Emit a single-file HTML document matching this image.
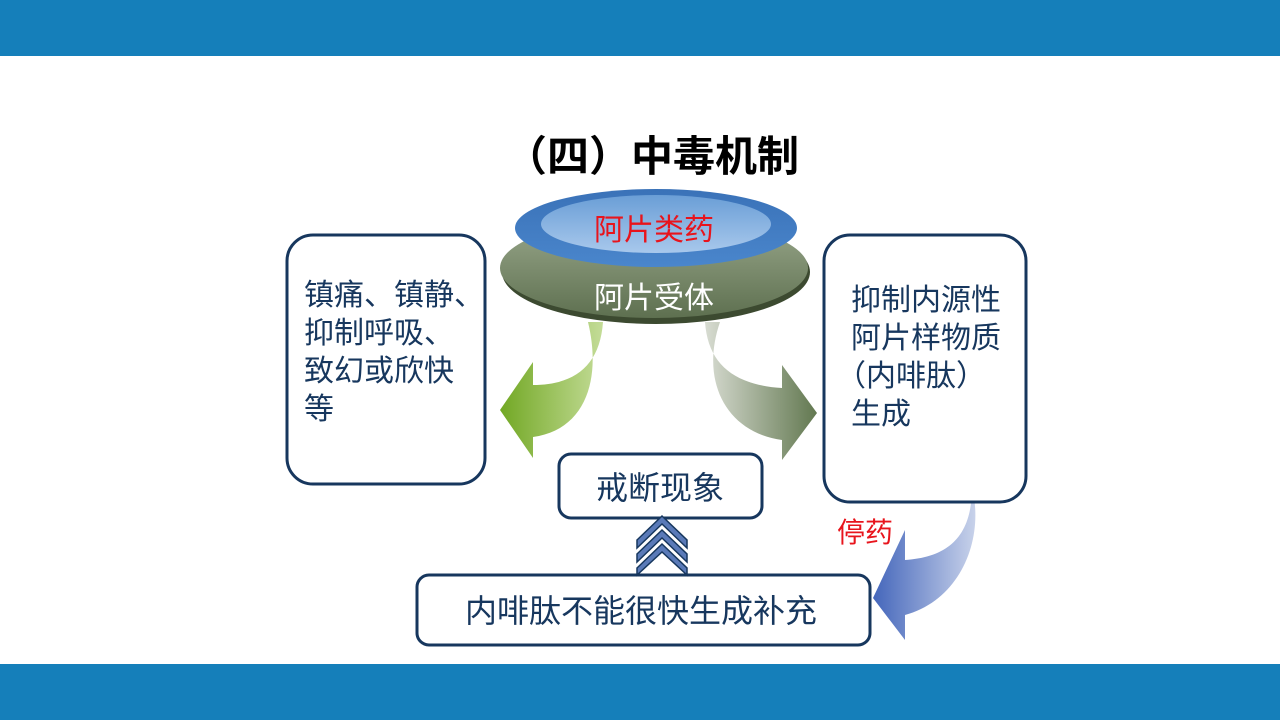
<!DOCTYPE html>
<html><head><meta charset="utf-8"><style>
html,body{margin:0;padding:0;background:#fff}
svg{display:block}
text{font-family:"Liberation Sans","Noto Sans CJK SC",sans-serif}
</style></head><body>
<svg width="1280" height="720" viewBox="0 0 1280 720" xmlns="http://www.w3.org/2000/svg">
<defs>
<linearGradient id="gg" x1="0" x2="1"><stop offset="0" stop-color="#72a824"/><stop offset="1" stop-color="#c4dc98"/></linearGradient>
<linearGradient id="gr" x1="0" x2="1"><stop offset="0" stop-color="#d8dcd2"/><stop offset="1" stop-color="#627850"/></linearGradient>
<linearGradient id="gb" x1="0" x2="1"><stop offset="0" stop-color="#4466bb"/><stop offset="1" stop-color="#c8d2ea"/></linearGradient>
<linearGradient id="base" x1="0" y1="0" x2="0" y2="1"><stop offset="0" stop-color="#9aa88c"/><stop offset="1" stop-color="#5e7050"/></linearGradient>
<linearGradient id="top" x1="0" y1="0" x2="0" y2="1"><stop offset="0" stop-color="#3a72b8"/><stop offset="1" stop-color="#4a86cc"/></linearGradient>
<linearGradient id="inner" x1="0" y1="0" x2="0" y2="1"><stop offset="0" stop-color="#6a9ed6"/><stop offset="1" stop-color="#a8c8ec"/></linearGradient>
</defs>
<rect x="0" y="0" width="1280" height="56" fill="#157fba"/>
<rect x="0" y="664" width="1280" height="56" fill="#157fba"/>
<text x="652" y="171" font-size="42" font-weight="bold" text-anchor="middle" fill="#000">（四）中毒机制</text>

<ellipse cx="656" cy="272" rx="154" ry="52" fill="#3c4a30"/>
<ellipse cx="654" cy="268" rx="154" ry="50" fill="url(#base)"/>
<ellipse cx="656" cy="228" rx="141" ry="39" fill="url(#top)"/>
<ellipse cx="656" cy="224" rx="115" ry="29" fill="url(#inner)"/>
<text x="654" y="240" font-size="30" fill="#e8141c" text-anchor="middle">阿片类药</text>
<text x="654" y="308" font-size="30" fill="#fff" text-anchor="middle">阿片受体</text>

<path d="M603,322 C600,365 575,385 533,385 L533,362 L500,410 L533,458 L533,437 C585,430 602,380 588,322 Z" fill="url(#gg)"/>
<path d="M705,322 C708,365 735,385 782,388 L782,365 L817,413 L782,460 L782,440 C725,432 700,380 720,322 Z" fill="url(#gr)"/>
<path d="M972,487 C972,535 950,557 905,560 L905,530 L873,598 L905,640 L905,615 C960,600 985,540 972,487 Z" fill="url(#gb)"/>

<rect x="287" y="235" width="198" height="249" rx="26" fill="#fff" stroke="#17375e" stroke-width="3"/>
<rect x="824" y="235" width="202" height="267" rx="26" fill="#fff" stroke="#17375e" stroke-width="3"/>
<rect x="559" y="454" width="203" height="64" rx="12" fill="#fff" stroke="#17375e" stroke-width="3"/>
<rect x="417" y="575" width="453" height="70" rx="12" fill="#fff" stroke="#17375e" stroke-width="3"/>

<g fill="#17375e" font-size="30">
<text x="304" y="305">镇痛、镇静、</text>
<text x="304" y="343">抑制呼吸、</text>
<text x="304" y="381">致幻或欣快</text>
<text x="304" y="419">等</text>
<text x="851" y="310">抑制内源性</text>
<text x="851" y="348">阿片样物质</text>
<text x="836" y="386">（内啡肽）</text>
<text x="851" y="424">生成</text>
<text x="660" y="499" text-anchor="middle" font-size="32">戒断现象</text>
<text x="641" y="622" text-anchor="middle" font-size="32">内啡肽不能很快生成补充</text>
</g>
<text x="837" y="542" font-size="28" fill="#e8141c">停药</text>

<g fill="#5a7ab8" stroke="#17375e" stroke-width="1.5">
<path d="M637,540 L662,516 L687,540 L687,548 L662,524 L637,548 Z"/>
<path d="M637,554 L662,530 L687,554 L687,562 L662,538 L637,562 Z"/>
<path d="M637,568 L662,544 L687,568 L687,575 L662,552 L637,575 Z"/>
</g>
</svg>
</body></html>
